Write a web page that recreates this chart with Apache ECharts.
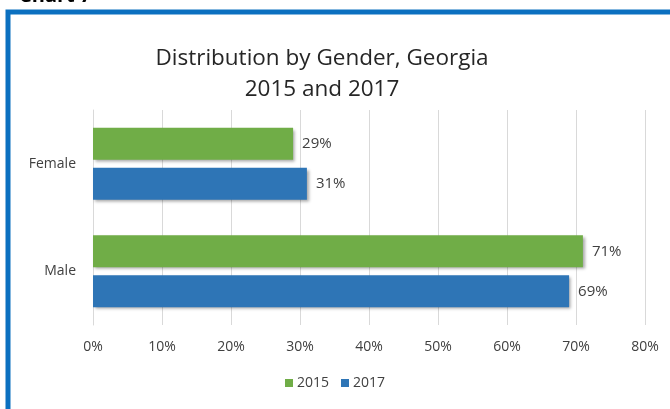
<!DOCTYPE html>
<html>
<head>
<meta charset="utf-8">
<script src="https://cdn.jsdelivr.net/npm/echarts@6/dist/echarts.min.js"></script>
<style>
  html, body { margin: 0; padding: 0; background: #fff; }
  #chart { width: 670px; height: 409px; }
</style>
</head>
<body>
<div id="chart"></div>
<script>
const categories = ['Female', 'Male']
const values2015 = [29, 71]
const values2017 = [31, 69]
const seriesNames = ['2015', '2017']

const chart = echarts.init(document.getElementById('chart'))
const labelStyle = {
    show: true,
    position: 'right',
    distance: 9,
    formatter: '{c}%',
    color: '#404040',
    fontSize: 15,
    fontFamily: 'Open Sans'
}
const shadow = {
    shadowColor: 'rgba(0,0,0,0.35)',
    shadowBlur: 3,
    shadowOffsetX: 2,
    shadowOffsetY: 2
}
const option = {
    animation: false,
    textStyle: { fontFamily: 'Open Sans' },
    title: {
        text: 'Distribution by Gender, Georgia\n2015 and 2017',
        left: 317,
        top: 38,
        textAlign: 'center',
        textStyle: {
            color: '#262626',
            fontSize: 22.5,
            fontWeight: 'normal',
            lineHeight: 31,
            fontFamily: 'Open Sans'
        }
    },
    graphic: [
        {
            type: 'rect',
            shape: { x: 8, y: 12, width: 700, height: 420 },
            style: { fill: 'none', stroke: '#0B70C0', lineWidth: 5 }
        },
        {
            type: 'text',
            x: 19,
            y: 6,
            style: {
                text: 'Chart 7',
                fill: '#000',
                font: 'bold 20px "Open Sans"',
                textVerticalAlign: 'bottom'
            }
        }
    ],
    legend: {
        data: seriesNames,
        bottom: 14,
        left: 'center',
        itemWidth: 8,
        itemHeight: 8,
        itemGap: 12,
        icon: 'rect',
        textStyle: { color: '#404040', fontSize: 14, padding: [0, 0, 0, -1] }
    },
    grid: {
        left: 93,
        right: 25,
        top: 110,
        bottom: 84
    },
    xAxis: {
        type: 'value',
        min: 0,
        max: 80,
        interval: 10,
        axisLine: { show: false },
        axisTick: { show: false },
        axisLabel: {
            formatter: '{value}%',
            color: '#404040',
            fontSize: 14,
            margin: 15
        },
        splitLine: { show: true, lineStyle: { color: '#D9D9D9', width: 1 } }
    },
    yAxis: {
        type: 'category',
        data: categories,
        inverse: true,
        axisLine: { show: true, lineStyle: { color: '#D9D9D9' } },
        axisTick: { show: false },
        axisLabel: { color: '#404040', fontSize: 14, margin: 17 }
    },
    series: [
        {
            name: seriesNames[0],
            type: 'bar',
            data: values2015,
            barWidth: 32,
            barGap: '25%',
            itemStyle: Object.assign({ color: '#70AD47' }, shadow),
            label: labelStyle
        },
        {
            name: seriesNames[1],
            type: 'bar',
            data: values2017,
            barWidth: 32,
            barGap: '25%',
            itemStyle: Object.assign({ color: '#2E75B6' }, shadow),
            label: labelStyle
        }
    ]
}
chart.setOption(option)
</script>
</body>
</html>
